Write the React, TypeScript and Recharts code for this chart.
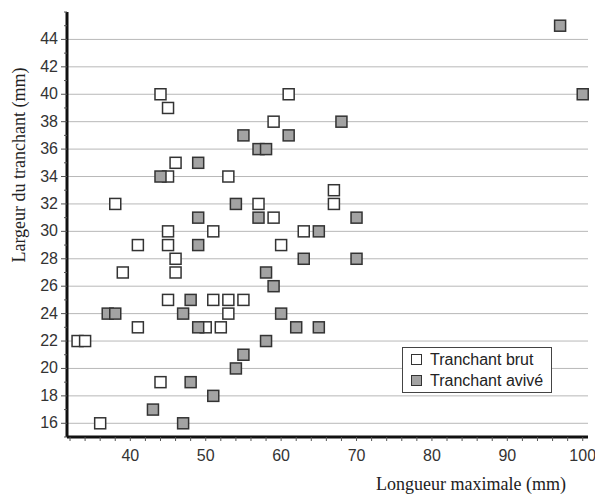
import { Legend, ReferenceLine, Scatter, ScatterChart, XAxis, YAxis, Label } from 'recharts'

// Tranchant brut (white squares)
const brutX = [44, 45, 61, 59, 46, 45, 53, 67, 38, 57, 67, 59, 45, 51, 63, 41, 45, 60, 46, 39, 46, 45, 51, 53, 55, 53, 41, 50, 52, 33, 34, 44, 36]
const brutY = [40, 39, 40, 38, 35, 34, 34, 33, 32, 32, 32, 31, 30, 30, 30, 29, 29, 29, 28, 27, 27, 25, 25, 25, 25, 24, 23, 23, 23, 22, 22, 19, 16]

// Tranchant avivé (grey squares)
const aviveX = [97, 100, 55, 61, 68, 57, 58, 49, 44, 54, 49, 57, 70, 49, 65, 63, 70, 58, 59, 48, 37, 38, 47, 60, 49, 62, 65, 58, 55, 54, 48, 51, 43, 47]
const aviveY = [45, 40, 37, 37, 38, 36, 36, 35, 34, 32, 31, 31, 31, 29, 30, 28, 28, 27, 26, 25, 24, 24, 24, 24, 23, 23, 23, 22, 21, 20, 19, 18, 17, 16]

const xTicks = Array.from({ length: 35 }, (_, i) => 32 + i * 2)
const yTicks = Array.from({ length: 32 }, (_, i) => 15 + i)
const gridY = [16, 18, 20, 22, 24, 26, 28, 30, 32, 34, 36, 38, 40, 42, 44]

const brut = brutX.map((x, i) => ({ x, y: brutY[i] }))
const avive = aviveX.map((x, i) => ({ x, y: aviveY[i] }))

const TICK_FONT = "'Liberation Sans Narrow', 'Liberation Sans', Arial, sans-serif"
const SERIF = "'Liberation Serif', 'Times New Roman', serif"

function XTick(props: any) {
  const { x, y, payload } = props
  const v = payload.value
  return (
    <g>
      <line x1={x} x2={x} y1={y} y2={y + 4} stroke="#555" />
      {v % 10 === 0 && (
        <text x={x} y={y + 24} textAnchor="middle" fontSize={16} fill="#333" fontFamily={TICK_FONT}>
          {v}
        </text>
      )}
    </g>
  )
}

function YTick(props: any) {
  const { x, y, payload } = props
  const v = payload.value
  const major = v % 2 === 0 && v >= 16 && v <= 44
  return (
    <g>
      <line x1={x - (major ? 6 : 3)} x2={x} y1={y} y2={y} stroke="#555" />
      {major && (
        <text x={x - 9} y={y + 5} textAnchor="end" fontSize={16} fill="#333" fontFamily={TICK_FONT}>
          {v}
        </text>
      )}
    </g>
  )
}

const square = (fill: string) => (p: any) => (
  <rect x={p.cx - 5.5} y={p.cy - 5.5} width={11} height={11} fill={fill} stroke="#333" strokeWidth={1.5} />
)

function LegendBox() {
  const row = (fill: string, label: string) => (
    <div style={{ display: 'flex', alignItems: 'center', height: 21 }}>
      <span style={{ width: 9, height: 9, background: fill, border: '1.5px solid #333', marginRight: 8 }} />
      <span>{label}</span>
    </div>
  )
  return (
    <div
      style={{
        border: '1px solid #444',
        background: '#fff',
        padding: '1px 8px',
        fontFamily: "'Liberation Sans', Arial, sans-serif",
        fontSize: 16,
        color: '#222',
        lineHeight: 1,
      }}
    >
      {row('#fff', 'Tranchant brut')}
      {row('#a3a3a3', 'Tranchant avivé')}
    </div>
  )
}

export default function App() {
  return (
    <div style={{ position: 'absolute', left: 0, top: 0, width: 595, height: 495, background: '#fff' }}>
      <ScatterChart width={595} height={495} margin={{ top: 12, right: 7, bottom: 0, left: 0 }}>
        {gridY.map((v) => (
          <ReferenceLine key={v} y={v} stroke="#b8b8b8" strokeWidth={1} />
        ))}
        <XAxis
          type="number"
          dataKey="x"
          domain={[31.6, 100.7]}
          ticks={xTicks}
          interval={0}
          height={58}
          tickSize={0}
          tickMargin={0}
          tickLine={false}
          axisLine={{ stroke: '#111', strokeWidth: 3 }}
          tick={<XTick />}
        >
          <Label
            content={() => (
              <text x={566} y={490} textAnchor="end" fontSize={18} fontFamily={SERIF} fill="#222">
                Longueur maximale (mm)
              </text>
            )}
          />
        </XAxis>
        <YAxis
          type="number"
          dataKey="y"
          domain={[15, 46]}
          ticks={yTicks}
          interval={0}
          width={67}
          tickSize={0}
          tickMargin={0}
          tickLine={false}
          axisLine={{ stroke: '#111', strokeWidth: 3 }}
          tick={<YTick />}
        >
          <Label
            content={() => (
              <text
                x={25}
                y={165}
                textAnchor="middle"
                fontSize={18}
                fontFamily={SERIF}
                fill="#222"
                transform="rotate(-90 25 165)"
              >
                Largeur du tranchant (mm)
              </text>
            )}
          />
        </YAxis>
        <Legend
          layout="vertical"
          align="center"
          verticalAlign="middle"
          wrapperStyle={{ left: 402, top: 347, width: 'auto' }}
          content={() => <LegendBox />}
        />
        <Scatter name="Tranchant brut" data={brut} shape={square('#fff')} isAnimationActive={false} />
        <Scatter name="Tranchant avivé" data={avive} shape={square('#a3a3a3')} isAnimationActive={false} />
      </ScatterChart>
    </div>
  )
}
